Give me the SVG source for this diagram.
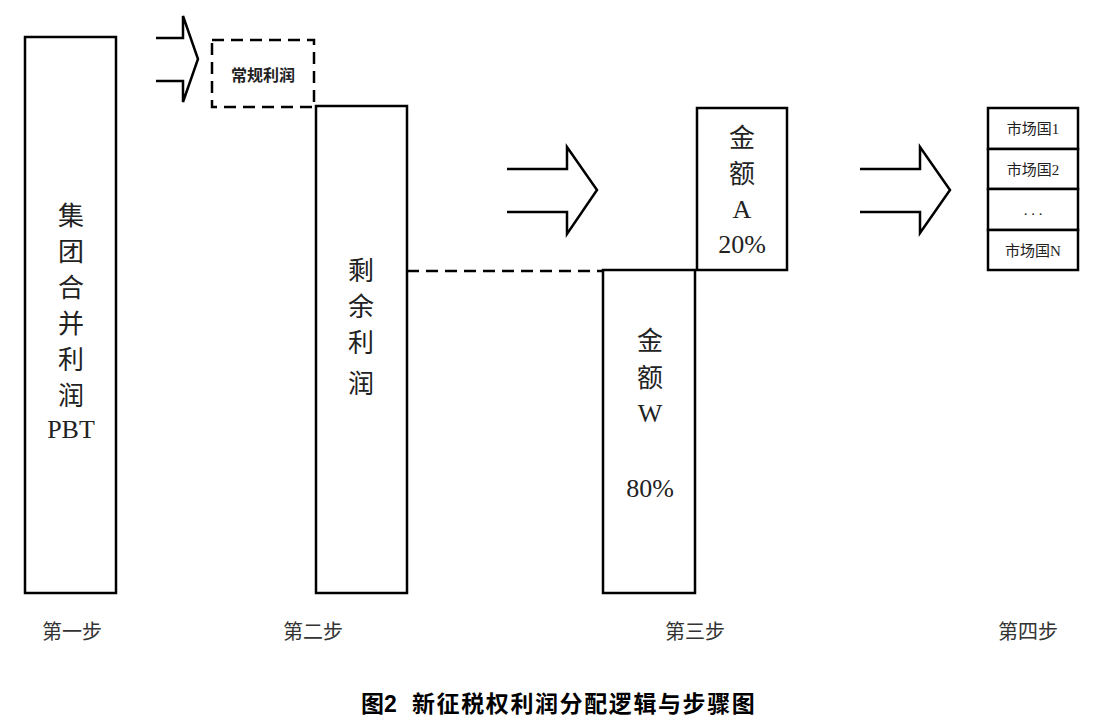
<svg xmlns="http://www.w3.org/2000/svg" width="1118" height="724" viewBox="0 0 1118 724">
<style>
.box{fill:#fff;stroke:#000;stroke-width:2.5}
.dash{fill:none;stroke:#000;stroke-width:2.5;stroke-dasharray:12 7}
.arrow{fill:none;stroke:#000;stroke-width:2.5;stroke-linejoin:miter}
.t{font-family:"Liberation Serif","Noto Sans CJK SC",serif;font-size:26px;fill:#222;text-anchor:middle}
.s{font-family:"Liberation Serif","Noto Sans CJK SC",serif;font-size:15px;fill:#222;text-anchor:middle}
.b{font-family:"Liberation Serif","Noto Sans CJK SC",serif;font-size:16px;font-weight:bold;fill:#222;text-anchor:middle}
.step{font-family:"Liberation Sans","Noto Sans CJK SC",sans-serif;font-size:20px;fill:#333;text-anchor:middle}
.cap{font-family:"Liberation Sans","Noto Sans CJK SC",sans-serif;font-size:23px;font-weight:bold;fill:#000}
</style>
<rect width="1118" height="724" fill="#fff"/>
<g id="connectors">
<path class="arrow" d="M156 38H183V16L198 59L183 102V81H156"/>
<path class="arrow" d="M507 169H567V147L597 190L567 234V212H507"/>
<path class="arrow" d="M860 169H920V147L950 190L920 233V212H860"/>
<line class="dash" x1="407" y1="271" x2="603" y2="271"/>
</g>
<g id="node-pbt">
<rect class="box" x="25" y="37" width="91" height="556"/>
<text class="t" x="71" y="225">集</text>
<text class="t" x="71" y="261">团</text>
<text class="t" x="71" y="297">合</text>
<text class="t" x="71" y="333">并</text>
<text class="t" x="71" y="369">利</text>
<text class="t" x="71" y="405">润</text>
<text class="t" x="71" y="438">PBT</text>
</g>
<g id="node-normal">
<rect class="dash" x="212" y="40" width="102" height="67"/>
<text class="b" x="263" y="81">常规利润</text>
</g>
<g id="node-residual">
<rect class="box" x="316" y="106" width="91" height="487"/>
<text class="t" x="361" y="280">剩</text>
<text class="t" x="361" y="316">余</text>
<text class="t" x="361" y="352">利</text>
<text class="t" x="361" y="393">润</text>
</g>
<g id="node-a">
<rect class="box" x="697" y="108" width="90" height="162"/>
<text class="t" x="742" y="147">金</text>
<text class="t" x="742" y="183">额</text>
<text class="t" x="742" y="218">A</text>
<text class="t" x="742" y="253">20%</text>
</g>
<g id="node-w">
<rect class="box" x="603" y="270" width="92" height="323"/>
<text class="t" x="650" y="350">金</text>
<text class="t" x="650" y="387">额</text>
<text class="t" x="650" y="422">W</text>
<text class="t" x="650" y="497">80%</text>
</g>
<g id="node-markets">
<rect class="box" x="988" y="108" width="90" height="41"/>
<text class="s" x="1033" y="134">市场国1</text>
<rect class="box" x="988" y="149" width="90" height="40"/>
<text class="s" x="1033" y="175">市场国2</text>
<rect class="box" x="988" y="189" width="90" height="41"/>
<text class="s" x="1033" y="215">. . .</text>
<rect class="box" x="988" y="230" width="90" height="40"/>
<text class="s" x="1033" y="256">市场国N</text>
</g>
<g id="labels">
<text class="step" x="72" y="639">第一步</text>
<text class="step" x="313" y="639">第二步</text>
<text class="step" x="695" y="639">第三步</text>
<text class="step" x="1028" y="639">第四步</text>
<text class="cap" x="361" y="712">图2</text>
<text class="cap" x="412" y="712" letter-spacing="1.6">新征税权利润分配逻辑与步骤图</text>
</g>
</svg>
